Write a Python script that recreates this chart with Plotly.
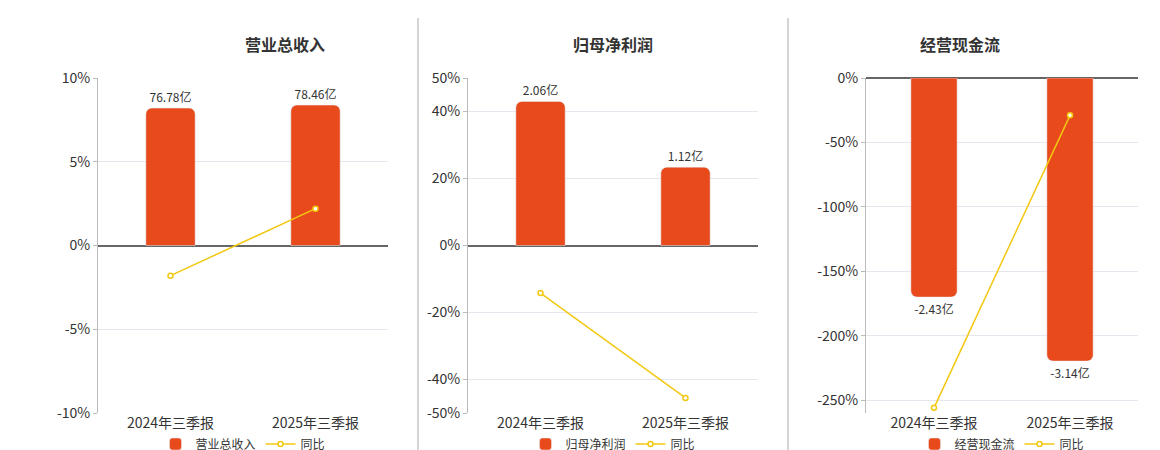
import plotly.graph_objects as go

cats = ["2024年三季报", "2025年三季报"]
titles = ["营业总收入", "归母净利润", "经营现金流"]
bar_vals = [[76.78, 78.46], [2.06, 1.12], [-2.43, -3.14]]
bar_labels = [["76.78亿", "78.46亿"], ["2.06亿", "1.12亿"], ["-2.43亿", "-3.14亿"]]
yoy = [[-1.8, 2.2], [-14.2, -45.5], [-256, -29]]
pct_ranges = [[-10, 10], [-50, 50], [-260, 0]]
pct_ticks = [[-10, -5, 0, 5, 10], [-50, -40, -20, 0, 20, 40, 50], [-250, -200, -150, -100, -50, 0]]
bar_ranges = [[-93.6, 93.6], [-2.395, 2.395], [-3.716, 0]]

W, H = 1160, 450
xdom = [[90, 380], [460, 750], [858, 1130]]
ydom = [1 - 405 / H, 1 - 70 / H]
BAR = "#E84A1C"
LINE = "#F2C811"

fig = go.Figure()
lay = {}
for i in range(3):
    n = i + 1
    xa = "x" if n == 1 else f"x{n}"
    yb = "y" if i == 0 else f"y{2*i+1}"   # primary: bars (hidden)
    ya = f"y{2*i+2}"                       # overlay: percent (visible, left)
    lg = "legend" if n == 1 else f"legend{n}"
    fig.add_trace(go.Bar(x=cats, y=bar_vals[i], name=titles[i], xaxis=xa, yaxis=yb,
                         marker=dict(color=BAR, cornerradius=6), width=0.34,
                         text=bar_labels[i], textposition="outside", cliponaxis=False,
                         textfont=dict(size=12, color="#333"), legend=lg))
    fig.add_trace(go.Scatter(x=cats, y=yoy[i], name="同比", xaxis=xa, yaxis=ya, mode="lines+markers",
                             line=dict(color=LINE, width=1.5),
                             marker=dict(size=5, color="white", line=dict(color=LINE, width=1.5)),
                             legend=lg))
    xk = "xaxis" if n == 1 else f"xaxis{n}"
    ybk = "yaxis" if i == 0 else f"yaxis{2*i+1}"
    yak = f"yaxis{2*i+2}"
    lay[xk] = dict(domain=[xdom[i][0] / W, xdom[i][1] / W], anchor=yb, showline=False,
                   tickfont=dict(size=14, color="#333"), showgrid=False)
    lay[ybk] = dict(domain=ydom, anchor=xa, range=bar_ranges[i], showticklabels=False,
                    showgrid=False, zeroline=False, showline=False)
    lay[yak] = dict(overlaying=yb, side="left", anchor=xa, range=pct_ranges[i], tickvals=pct_ticks[i],
                    ticktext=[f"{v}%" for v in pct_ticks[i]], tickfont=dict(size=14, color="#333"),
                    showline=True, linecolor="#bbb", gridcolor="#e6e6ee", zeroline=True,
                    zerolinecolor="#666", zerolinewidth=1.5, ticks="outside", ticklen=4, tickcolor="#bbb")
    lay[lg] = dict(orientation="h", x=(xdom[i][0] + xdom[i][1]) / 2 / W, xanchor="center",
                   y=14 / H, yanchor="middle", font=dict(size=12, color="#333"),
                   bgcolor="rgba(0,0,0,0)")
fig.update_layout(**lay)
fig.update_layout(width=W, height=H, margin=dict(l=0, r=0, t=0, b=0, autoexpand=False),
                  plot_bgcolor="white", paper_bgcolor="white", barmode="overlay",
                  font=dict(family="Noto Sans CJK SC"),
                  annotations=[dict(text=f"<b>{t}</b>", x=(xdom[i][0] + xdom[i][1]) / 2 / W, y=1 - 22 / H,
                                    xref="paper", yref="paper", showarrow=False,
                                    font=dict(size=16, color="#333")) for i, t in enumerate(titles)],
                  shapes=[dict(type="line", xref="paper", yref="paper", x0=x / W, x1=x / W,
                               y0=1 - 445 / H, y1=1 - 10 / H, line=dict(color="#aaa", width=1))
                          for x in (410, 780)])
fig.write_html("out.html")
